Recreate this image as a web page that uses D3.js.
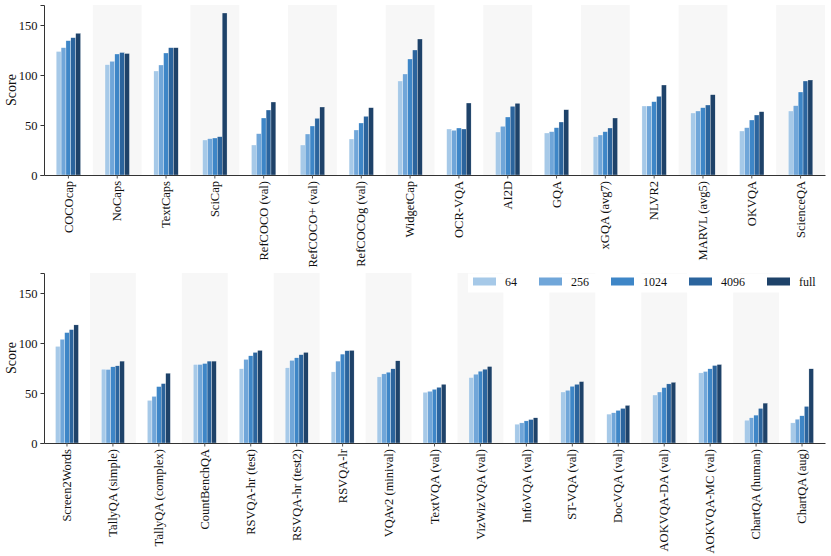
<!DOCTYPE html>
<html lang="en">
<head>
<meta charset="UTF-8"/>
<title>Scores by number of examples</title>
<script src="https://d3js.org/d3.v7.min.js"></script>
<style>
  body { margin: 0; background: #fff; }
  text { font-family: "Liberation Serif", "DejaVu Serif", serif; fill: #111; }
</style>
</head>
<body>
<script>

var W = 831, H = 556;

// series names (legend)
var series = ["64", "256", "1024", "4096", "full"];
var colors = ["#a6c9e8", "#70a6d9", "#3e86c7", "#2b649d", "#1e4269"];

// top panel
var topCats = ["COCOcap", "NoCaps", "TextCaps", "SciCap", "RefCOCO (val)", "RefCOCO+ (val)",
    "RefCOCOg (val)", "WidgetCap", "OCR-VQA", "AI2D", "GQA", "xGQA (avg7)", "NLVR2",
    "MARVL (avg5)", "OKVQA", "ScienceQA"];
var top64   = [123.5, 110.3, 104.0, 35.0, 30.0, 30.0, 36.0, 94.0, 46.0, 43.0, 42.0, 38.3, 69.0, 62.0, 44.0, 64.0];
var top256  = [127.3, 113.7, 110.0, 36.3, 41.3, 41.0, 45.0, 101.0, 44.7, 48.7, 43.3, 40.0, 69.0, 64.0, 47.3, 69.3];
var top1024 = [134.3, 121.0, 122.0, 37.0, 57.0, 49.0, 52.0, 116.0, 47.0, 58.0, 47.3, 43.3, 73.3, 67.3, 55.0, 83.0];
var top4096 = [137.3, 122.5, 127.3, 38.3, 65.0, 56.7, 58.7, 125.0, 46.0, 68.7, 53.0, 47.0, 78.7, 70.0, 60.0, 94.0];
var topFull = [141.7, 121.5, 127.3, 162.0, 73.0, 68.0, 67.3, 136.0, 72.0, 71.7, 65.3, 57.0, 90.0, 80.3, 63.3, 95.0];

// bottom panel
var botCats = ["Screen2Words", "TallyQA (simple)", "TallyQA (complex)", "CountBenchQA",
    "RSVQA-hr (test)", "RSVQA-hr (test2)", "RSVQA-lr", "VQAv2 (minival)", "TextVQA (val)",
    "VizWizVQA (val)", "InfoVQA (val)", "ST-VQA (val)", "DocVQA (val)", "AOKVQA-DA (val)",
    "AOKVQA-MC (val)", "ChartQA (human)", "ChartQA (aug)"];
var bot64   = [96.6, 73.8, 42.6, 78.5, 74.2, 75.2, 71.1, 66.1, 50.7, 65.4, 18.8, 51.0, 28.9, 48.0, 70.1, 22.8, 20.1];
var bot256  = [103.7, 73.5, 46.6, 78.5, 83.6, 82.6, 81.9, 69.1, 51.7, 68.8, 20.1, 52.7, 30.2, 51.0, 71.5, 25.2, 23.8];
var bot1024 = [110.4, 76.2, 56.4, 79.5, 87.2, 85.2, 88.9, 70.8, 53.7, 71.8, 22.1, 56.7, 32.6, 55.4, 74.2, 27.9, 27.2];
var bot4096 = [113.4, 77.2, 59.4, 81.9, 90.6, 88.3, 92.3, 74.2, 55.7, 73.8, 23.5, 58.7, 34.6, 59.1, 77.5, 34.6, 36.6];
var botFull = [118.1, 81.9, 69.8, 81.9, 92.6, 90.6, 92.6, 82.2, 58.7, 76.5, 25.2, 61.4, 37.6, 60.7, 78.5, 39.9, 74.2];

var yTicks = [0, 50, 100, 150];

var svg = d3.select("body").append("svg")
    .attr("width", W)
    .attr("height", H);

var left = 44, right = 825;

function drawPanel(cats, vals, y0, y1, showLegend) {
    var x = d3.scaleBand().domain(cats).range([left, right]).padding(0);
    var y = d3.scaleLinear().domain([0, 170]).range([y1, y0]);
    var inner = d3.scaleBand().domain(series)
        .range([0, x.bandwidth() * 0.5]);

    var g = svg.append("g");

    // alternating shaded bands
    g.selectAll(".band")
        .data(cats.filter(function(d, i) { return i % 2 == 1; }))
        .enter().append("rect")
        .attr("x", function(d) { return x(d); })
        .attr("y", y0)
        .attr("width", x.bandwidth())
        .attr("height", y1 - y0)
        .style("fill", "#f7f7f7");

    // bars
    cats.forEach(function(c, ci) {
        var gx = x(c) + x.bandwidth() * 0.25;
        series.forEach(function(s, si) {
            var v = vals[si][ci];
            g.append("rect")
                .attr("x", gx + inner(s))
                .attr("y", y(v))
                .attr("width", inner.bandwidth())
                .attr("height", y(0) - y(v))
                .style("fill", colors[si])
                .style("stroke", "#ffffff")
                .style("stroke-width", 0.3);
        });
    });

    // y axis
    var ya = g.append("g")
        .attr("transform", "translate(" + left + ",0)")
        .call(d3.axisLeft(y).tickValues(yTicks).tickSize(3.5).tickPadding(3));
    ya.select(".domain").attr("stroke", "#333");
    ya.selectAll(".tick line").attr("stroke", "#333");
    ya.selectAll("text").style("font-size", "12.5px");

    // x axis
    var xa = g.append("g")
        .attr("transform", "translate(0," + y1 + ")")
        .call(d3.axisBottom(x).tickSize(3.5).tickSizeOuter(0));
    xa.select(".domain").attr("stroke", "#333");
    xa.selectAll(".tick line").attr("stroke", "#555");
    xa.selectAll("text")
        .style("font-size", "12.5px")
        .attr("text-anchor", "end")
        .attr("transform", "rotate(-90)")
        .attr("x", -6)
        .attr("y", 0)
        .attr("dy", "0.33em");

    g.append("text")
        .attr("transform", "translate(16," + ((y0 + y1) / 2) + ") rotate(-90)")
        .attr("text-anchor", "middle")
        .style("font-size", "14px")
        .text("Score");

    if (showLegend) {
        var lg = g.append("g");
        lg.append("rect")
            .attr("x", 468).attr("y", y0 + 0.5)
            .attr("width", right - 468 - 1).attr("height", 19)
            .style("fill", "#fff");
        var lx = 473;
        series.forEach(function(s, si) {
            lg.append("rect")
                .attr("x", lx).attr("y", y0 + 4.5)
                .attr("width", 23).attr("height", 8)
                .style("fill", colors[si]);
            var t = lg.append("text")
                .attr("x", lx + 32).attr("y", y0 + 12.5)
                .style("font-size", "12px")
                .text(s);
            lx += 32 + t.node().getComputedTextLength() + 22;
        });
    }
}

drawPanel(topCats, [top64, top256, top1024, top4096, topFull], 5, 175, false);
drawPanel(botCats, [bot64, bot256, bot1024, bot4096, botFull], 273, 443, true);

</script>
</body>
</html>
